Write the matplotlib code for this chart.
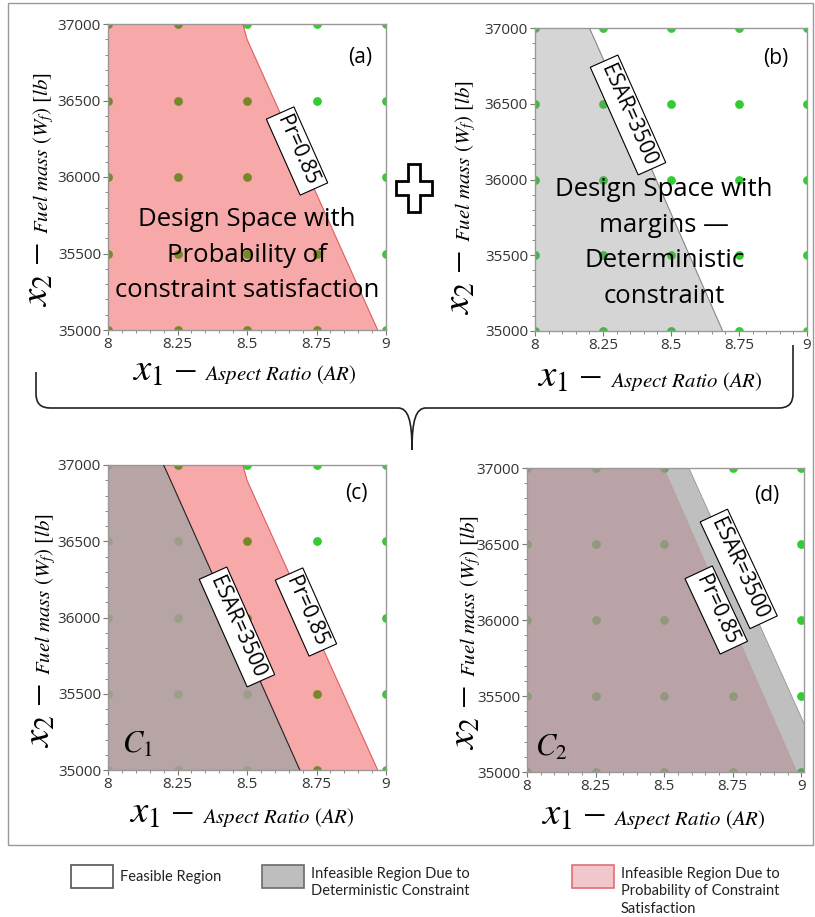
import matplotlib
matplotlib.use('Agg')
import matplotlib.pyplot as plt
import matplotlib.transforms as mtransforms
import numpy as np
from matplotlib.patches import Rectangle, Polygon, PathPatch
from matplotlib.path import Path
from matplotlib.ticker import MultipleLocator

plt.rcParams['mathtext.fontset'] = 'stix'
plt.rcParams['font.family'] = ['Open Sans', 'DejaVu Sans']

W, H = 815, 917

# design grid (green points)
grid_ar = [8, 8.25, 8.5, 8.75, 9]
grid_wf = [35000, 35500, 36000, 36500, 37000]
ar_ticklabels = ['8', '8.25', '8.5', '8.75', '9']

# constraint boundaries, case C1 (AR value at given fuel mass)
bound_wf = [37000, 36900, 35000]
pr_c1 = [8.485, 8.50, 8.97]
esar_c1 = [8.20, 8.225, 8.69]

# constraint boundaries, case C2
bound_wf2 = [37000, 35000]
pr_c2 = [8.50, 8.985]
esar_c2 = [8.59, 9.09]

RED = (0.92, 0.08, 0.08)


def fx(px):
    return px / W


def fy(py):
    return 1 - py / H


def add_ax(l, t, r, b):
    return fig.add_axes([fx(l), fy(b), (r - l) / W, (b - t) / H])


def setup(ax, xmax=9.0):
    ar, wf = np.meshgrid(grid_ar, grid_wf)
    ax.scatter(ar.ravel(), wf.ravel(), s=40, color='#33cc33', linewidths=0, zorder=1)
    ax.set_xlim(8, xmax)
    ax.set_ylim(35000, 37000)
    ax.set_xticks(grid_ar)
    ax.set_xticklabels(ar_ticklabels)
    ax.set_yticks(grid_wf)
    ax.xaxis.set_minor_locator(MultipleLocator(0.05))
    ax.yaxis.set_minor_locator(MultipleLocator(100))
    ax.tick_params(which='both', direction='out', color='#777', labelcolor='#333',
                   labelsize=11, pad=1.5)
    ax.tick_params(which='major', length=3.5)
    ax.tick_params(which='minor', length=2)
    for s in ax.spines.values():
        s.set_color('#999')
        s.set_linewidth(1)


def axis_labels(ax, xsplit, xbase, ysplit, ybase):
    tx = mtransforms.offset_copy(ax.transAxes, fig=fig, x=8, y=0, units='dots')
    ty = mtransforms.offset_copy(ax.transAxes, fig=fig, x=0, y=8, units='dots')
    ax.text(xsplit, xbase, r'$x_1$ –', transform=ax.transAxes, ha='right',
            va='baseline', fontsize=28, family='STIXGeneral')
    ax.text(xsplit, xbase, r'$\mathit{Aspect\ Ratio}\ (AR)$', transform=tx,
            ha='left', va='baseline', fontsize=15)
    ax.text(ybase, ysplit, r'$x_2$ –', transform=ax.transAxes, ha='right',
            va='baseline', rotation=90, rotation_mode='anchor', fontsize=28,
            family='STIXGeneral')
    ax.text(ybase, ysplit, r'$\mathit{Fuel\ mass}\ \left(W_f\right)\ [lb]$',
            transform=ty, ha='left', va='baseline', rotation=90,
            rotation_mode='anchor', fontsize=15)


def tag(ax, x, y, s, rot=-66):
    ax.text(x, y, s, rotation=rot, rotation_mode='anchor', ha='center', va='center',
            fontsize=15, zorder=6,
            bbox=dict(boxstyle='square,pad=0.22', fc='white', ec='black', lw=0.8))


fig = plt.figure(figsize=(W / 100, H / 100), dpi=100)

# (a) probability constraint
ax = add_ax(108, 24, 386, 330)
setup(ax)
ax.fill_betweenx(bound_wf, 8, pr_c1, color=RED, alpha=0.37, lw=0, zorder=2)
ax.plot(pr_c1, bound_wf, color='#e06060', lw=0.8, zorder=3)
tag(ax, 8.68, 36170, 'Pr=0.85')
ax.text(0.5, 0.245, 'Design Space with\nProbability of\nconstraint satisfaction',
        transform=ax.transAxes, ha='center', va='center', fontsize=18.5,
        linespacing=1.55, zorder=7)
ax.text(0.906, 0.889, '(a)', transform=ax.transAxes, ha='center', va='center', fontsize=15)
axis_labels(ax, 0.318, -0.165, 0.288, -0.216)

# (b) deterministic constraint
ax = add_ax(535, 28, 807, 331)
setup(ax)
ax.fill_betweenx(bound_wf, 8, esar_c1, color='#808080', alpha=0.33, lw=0, zorder=2)
ax.plot(esar_c1, bound_wf, color='#888888', lw=0.8, zorder=3)
tag(ax, 8.342, 36426, 'ESAR=3500')
ax.text(0.475, 0.29, 'Design Space with\nmargins —\nDeterministic\nconstraint',
        transform=ax.transAxes, ha='center', va='center', fontsize=18.5,
        linespacing=1.55, zorder=7)
ax.text(0.886, 0.90, '(b)', transform=ax.transAxes, ha='center', va='center', fontsize=15)
axis_labels(ax, 0.245, -0.185, 0.267, -0.239)

# (c) case C1
ax = add_ax(108, 465, 386, 770)
setup(ax)
ax.fill_betweenx(bound_wf, 8, pr_c1, color=RED, alpha=0.37, lw=0, zorder=2)
ax.fill_betweenx(bound_wf, 8, esar_c1, color='#a8a4a4', alpha=0.8, lw=0, zorder=2)
ax.plot(pr_c1, bound_wf, color='#e06060', lw=0.8, zorder=3)
ax.plot(esar_c1, bound_wf, color='#222222', lw=0.8, zorder=3)
tag(ax, 8.464, 35938, 'ESAR=3500')
tag(ax, 8.712, 36036, 'Pr=0.85')
ax.text(8.104, 35164, r'$C_1$', ha='center', va='center', fontsize=22, zorder=7)
ax.text(0.895, 0.908, '(c)', transform=ax.transAxes, ha='center', va='center', fontsize=15)
axis_labels(ax, 0.308, -0.174, 0.285, -0.209)

# (d) case C2
ax = add_ax(527, 468, 804, 772)
setup(ax, 9.01)
ax.fill_betweenx(bound_wf2, 8, esar_c2, color='#808080', alpha=0.5, lw=0, zorder=2)
ax.fill_betweenx(bound_wf2, 8, pr_c2, color='#b89196', alpha=0.6, lw=0, zorder=2)
ax.plot(esar_c2, bound_wf2, color='#999999', lw=0.6, zorder=3)
tag(ax, 8.772, 36336, 'ESAR=3500', rot=-65)
tag(ax, 8.69, 36066, 'Pr=0.85', rot=-65)
ax.text(8.09, 35158, r'$C_2$', ha='center', va='center', fontsize=22, zorder=7)
ax.text(0.866, 0.908, '(d)', transform=ax.transAxes, ha='center', va='center', fontsize=15)
axis_labels(ax, 0.283, -0.174, 0.286, -0.188)

# outer frame
fig.patches.append(Rectangle((fx(8), fy(845)), (813 - 8) / W, (845 - 3) / H,
                             transform=fig.transFigure, fill=False, ec='#999999', lw=1))

# plus sign between (a) and (b)
cx, cy, hw, hh, aw, ah = 414, 188, 18, 24, 6, 7
plus = [(cx - aw, cy - hh), (cx + aw, cy - hh), (cx + aw, cy - ah), (cx + hw, cy - ah),
        (cx + hw, cy + ah), (cx + aw, cy + ah), (cx + aw, cy + hh), (cx - aw, cy + hh),
        (cx - aw, cy + ah), (cx - hw, cy + ah), (cx - hw, cy - ah), (cx - aw, cy - ah)]
fig.patches.append(Polygon([(fx(a), fy(b)) for a, b in plus], closed=True,
                           transform=fig.transFigure, fc='white', ec='black', lw=2))

# curly brace
bp = [(36, 372), (36, 394), (36, 408), (50, 408), (398, 408), (408, 408), (412, 420),
      (412, 450), (412, 420), (416, 408), (426, 408), (779, 408), (793, 408),
      (793, 394), (793, 345)]
codes = [Path.MOVETO, Path.LINETO, Path.CURVE3, Path.CURVE3, Path.LINETO,
         Path.CURVE4, Path.CURVE4, Path.CURVE4, Path.CURVE4, Path.CURVE4, Path.CURVE4,
         Path.LINETO, Path.CURVE3, Path.CURVE3, Path.LINETO]
brace = Path([(fx(a), fy(b)) for a, b in bp], codes)
fig.patches.append(PathPatch(brace, transform=fig.transFigure, fill=False,
                             ec='#222222', lw=1.2))

# legend
leg_boxes = [(71, 113, 'white', '#555555'), (262, 304, '#bebebe', '#6b6b6b'),
             (572, 614, '#f0c8cc', '#e06e73')]
leg_texts = ['Feasible Region', 'Infeasible Region Due to\nDeterministic Constraint',
             'Infeasible Region Due to\nProbability of Constraint\nSatisfaction']
for (l, r, fc, ec), txt in zip(leg_boxes, leg_texts):
    fig.patches.append(Rectangle((fx(l), fy(888)), (r - l) / W, 23 / H,
                                 transform=fig.transFigure, fc=fc, ec=ec, lw=1.2))
    fig.text(fx(r + 7), fy(867) if '\n' in txt else fy(877), txt, ha='left',
             va='top' if '\n' in txt else 'center', fontsize=10.5,
             family=['Lato', 'DejaVu Sans'], color='#222222', linespacing=1.3)

fig.savefig('out.png', dpi=100)
